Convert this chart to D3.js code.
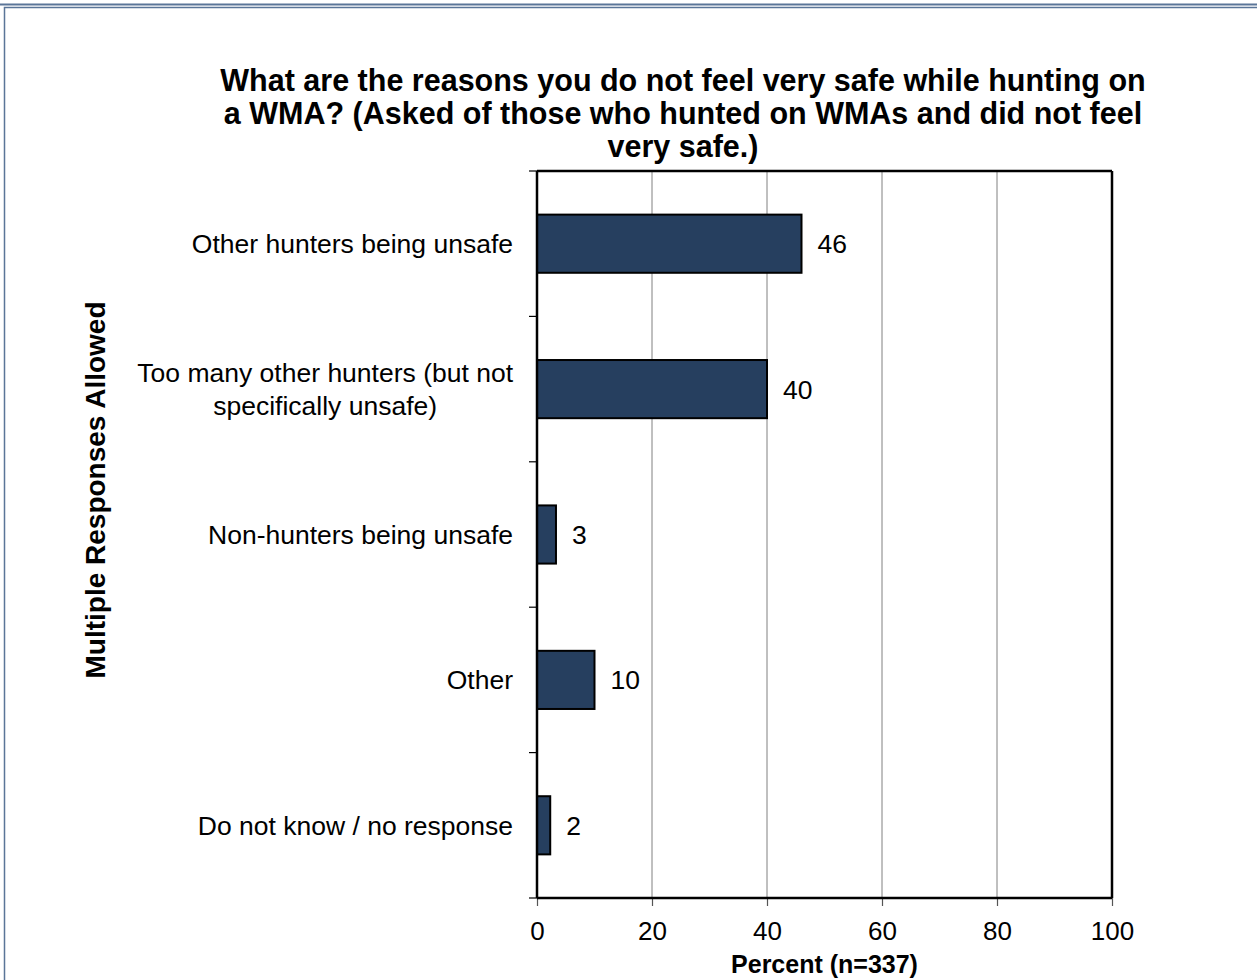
<!DOCTYPE html>
<html>
<head>
<meta charset="utf-8">
<script src="https://cdn.jsdelivr.net/npm/d3@7"></script>
<style>
  html, body { margin: 0; padding: 0; background: #fff; }
  svg { display: block; font-family: "Liberation Sans", Arial, sans-serif; }
</style>
</head>
<body>
<svg id="chart" width="1257" height="980"></svg>
<script>
const categories = [
  "Other hunters being unsafe",
  "Too many other hunters (but not|specifically unsafe)",
  "Non-hunters being unsafe",
  "Other",
  "Do not know / no response"
];
const values = [46.0, 40.0, 3.3, 10.0, 2.3];
const valueLabels = ["46", "40", "3", "10", "2"];
const xTicks = [0, 20, 40, 60, 80, 100];
const titleLines = [
  "What are the reasons you do not feel very safe while hunting on",
  "a WMA? (Asked of those who hunted on WMAs and did not feel",
  "very safe.)"
];
const xTitle = "Percent (n=337)";
const yTitle = "Multiple Responses Allowed";

const svg = d3.select("#chart");
const W = 1257, H = 980;
const plot = { left: 537, right: 1112, top: 171, bottom: 898 };

// outer frame
svg.append("line").attr("x1", 0).attr("x2", W).attr("y1", 4.5).attr("y2", 4.5)
  .attr("stroke", "#5a7598").attr("stroke-width", 2);
svg.append("rect").attr("x", 4.5).attr("y", 7.5).attr("width", W + 10).attr("height", H + 10)
  .attr("fill", "none").attr("stroke", "#5a7598").attr("stroke-width", 1.5);

const x = d3.scaleLinear().domain([0, 100]).range([plot.left, plot.right]);
const y = d3.scaleBand().domain(categories).range([plot.top, plot.bottom])
  .paddingInner(0.6).paddingOuter(0.3);

// gridlines
svg.append("g").selectAll("line").data(xTicks.filter(d => d > 0 && d < 100)).join("line")
  .attr("x1", d => x(d)).attr("x2", d => x(d))
  .attr("y1", plot.top).attr("y2", plot.bottom)
  .attr("stroke", "#808080").attr("stroke-width", 1);

// x axis
const xAxis = svg.append("g").attr("transform", `translate(0,${plot.bottom})`)
  .call(d3.axisBottom(x).tickValues(xTicks).tickSize(8).tickPadding(16).tickFormat(d3.format("d")));
xAxis.select(".domain").remove();
xAxis.selectAll(".tick line").attr("stroke", "#555").attr("stroke-width", 1.2);
xAxis.selectAll("text").attr("font-size", 26).attr("fill", "#000")
  .attr("font-family", "Liberation Sans, Arial, sans-serif");

// y axis ticks at band boundaries
const step = y.step();
const yBounds = d3.range(categories.length + 1).map(i => plot.top + i * step);
svg.append("g").selectAll("line").data(yBounds).join("line")
  .attr("x1", plot.left - 8).attr("x2", plot.left)
  .attr("y1", d => d).attr("y2", d => d)
  .attr("stroke", "#000").attr("stroke-width", 1.2);

// plot frame lines
svg.append("line").attr("x1", plot.left).attr("x2", plot.right).attr("y1", plot.top).attr("y2", plot.top)
  .attr("stroke", "#000").attr("stroke-width", 2.5);
svg.append("line").attr("x1", plot.right).attr("x2", plot.right).attr("y1", plot.top).attr("y2", plot.bottom)
  .attr("stroke", "#000").attr("stroke-width", 2.5);

// bars
svg.append("g").selectAll("rect").data(categories).join("rect")
  .attr("x", x(0))
  .attr("y", d => y(d))
  .attr("width", (d, i) => x(values[i]) - x(0))
  .attr("height", y.bandwidth())
  .attr("fill", "#263f5f")
  .attr("stroke", "#000").attr("stroke-width", 2);

// axis lines (on top)
svg.append("line").attr("x1", plot.left).attr("x2", plot.left).attr("y1", plot.top).attr("y2", plot.bottom)
  .attr("stroke", "#000").attr("stroke-width", 2.5);
svg.append("line").attr("x1", plot.left).attr("x2", plot.right).attr("y1", plot.bottom).attr("y2", plot.bottom)
  .attr("stroke", "#000").attr("stroke-width", 2.5);

// value labels
svg.append("g").selectAll("text").data(categories).join("text")
  .attr("x", (d, i) => x(values[i]) + 16)
  .attr("y", d => y(d) + y.bandwidth() / 2)
  .attr("dy", "0.36em")
  .attr("font-size", 26.5).attr("fill", "#000")
  .text((d, i) => valueLabels[i]);

// category labels
const catG = svg.append("g");
categories.forEach(c => {
  const lines = c.split("|");
  const cy = y(c) + y.bandwidth() / 2;
  const lh = 33;
  const t = catG.append("text").attr("font-size", 26.5).attr("fill", "#000");
  const spans = lines.map((l, j) => t.append("tspan")
    .attr("y", cy + (j - (lines.length - 1) / 2) * lh).attr("dy", "0.36em").text(l));
  const widths = spans.map(s => s.node().getComputedTextLength());
  const maxW = d3.max(widths);
  const cx = plot.left - 24 - maxW / 2;
  spans.forEach(s => s.attr("x", cx).attr("text-anchor", "middle"));
});

// title
svg.append("g").selectAll("text").data(titleLines).join("text")
  .attr("x", 683).attr("y", (d, i) => 91 + i * 33)
  .attr("text-anchor", "middle").attr("font-size", 30.5).attr("font-weight", "bold")
  .attr("fill", "#000").text(d => d);

// x title
svg.append("text").attr("x", (plot.left + plot.right) / 2).attr("y", 973)
  .attr("text-anchor", "middle").attr("font-size", 25).attr("font-weight", "bold")
  .attr("fill", "#000").text(xTitle);

// y title
svg.append("text").attr("transform", `translate(105,490) rotate(-90)`)
  .attr("text-anchor", "middle").attr("font-size", 28).attr("font-weight", "bold")
  .attr("fill", "#000").text(yTitle);
</script>
</body>
</html>
